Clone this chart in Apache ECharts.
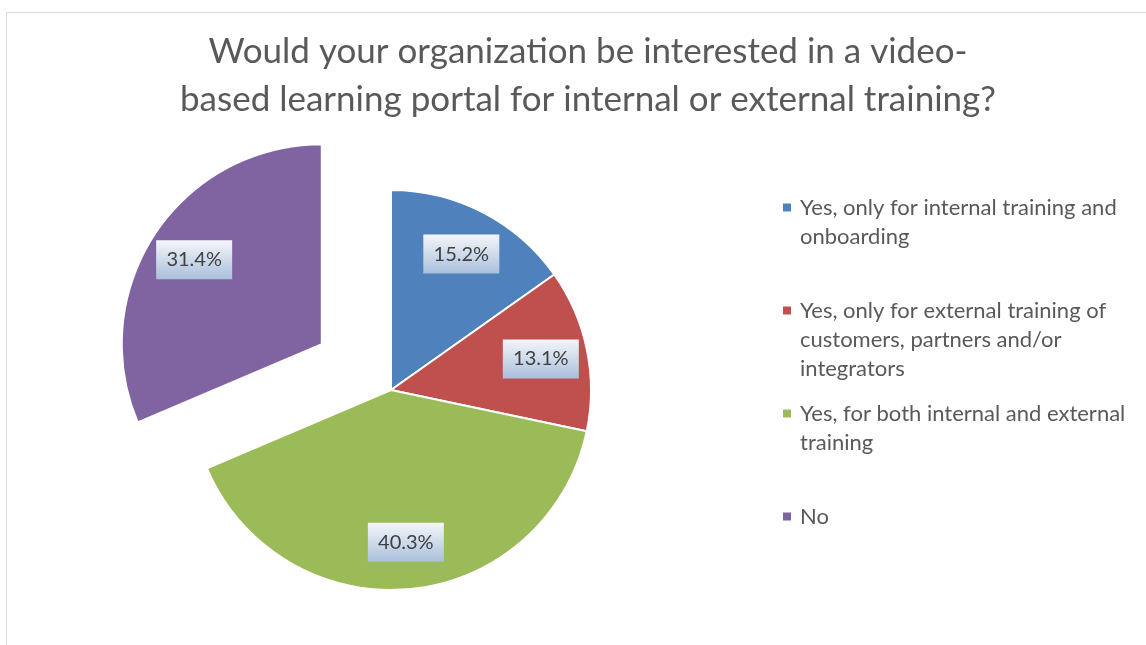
<!DOCTYPE html>
<html>
<head>
<meta charset="utf-8">
<script src="https://cdn.jsdelivr.net/npm/echarts@6/dist/echarts.min.js"></script>
<style>
  html, body { margin: 0; padding: 0; background: #fff; }
  #chart { width: 1146px; height: 645px; }
</style>
</head>
<body>
<div id="chart"></div>
<script>
// chart data
const categories = [
  'Yes, only for internal training and\nonboarding',
  'Yes, only for external training of\ncustomers, partners and/or\nintegrators',
  'Yes, for both internal and external\ntraining',
  'No'
]
const shares = [15.2, 13.1, 40.3, 31.4]
const exploded = [false, false, false, true]
const colors = ['#4f81bd', '#c0504d', '#9bbb59', '#8064a2']
const titleText = 'Would your organization be interested in a video-\nbased learning portal for internal or external training?'

const FONT = 'Lato, "Open Sans", sans-serif'
const chart = echarts.init(document.getElementById('chart'))

// legend rich styles: one square marker per colour
const legendRich = {
  t: { fontSize: 22, lineHeight: 29, color: '#595959', fontFamily: FONT },
  g: { width: 9, lineHeight: 29 },
  s: { width: 17, lineHeight: 29 }
}
colors.forEach((c, i) => {
  legendRich['m' + i] = { width: 8, height: 8, backgroundColor: c }
})

function legendFormatter(name) {
  const i = categories.indexOf(name)
  const lines = name.split('\n')
  while (lines.length < 3) lines.push('')
  return lines.map((l, k) => {
    const head = k === 0 ? '{m' + i + '| }{g| }' : '{s| }'
    return head + (l ? '{t|' + l + '}' : '{t| }')
  }).join('\n')
}

const labelBg = new echarts.graphic.LinearGradient(0, 0, 0, 1, [
  { offset: 0, color: '#f4f6fa' },
  { offset: 1, color: '#a9bfdb' }
])

const pieData = categories.map((name, i) => ({
  name,
  value: shares[i],
  selected: exploded[i],
  itemStyle: { color: colors[i] }
}))

chart.setOption({
  backgroundColor: '#fff',
  animation: false,
  title: {
    text: titleText,
    left: 588,
    top: 28,
    textAlign: 'center',
    padding: 0,
    textStyle: {
      fontFamily: FONT,
      fontSize: 35,
      fontWeight: 'normal',
      lineHeight: 48,
      color: '#595959'
    }
  },
  graphic: [{
    type: 'rect',
    left: 4,
    top: 10,
    shape: { width: 1200, height: 700 },
    style: { fill: 'none', stroke: '#d9d9d9', lineWidth: 1 },
    silent: true
  }],
  legend: {
    orient: 'vertical',
    left: 778,
    top: 193,
    padding: 0,
    itemGap: 16,
    icon: 'none',
    itemWidth: 0,
    itemHeight: 8,
    selectedMode: false,
    data: categories,
    formatter: legendFormatter,
    textStyle: { lineHeight: 29, fontSize: 22, rich: legendRich }
  },
  series: [
    {
      name: 'slices',
      type: 'pie',
      center: [391, 390],
      radius: [0, 200],
      startAngle: 90,
      selectedMode: 'single',
      selectedOffset: 83,
      silent: true,
      label: { show: false },
      labelLine: { show: false },
      itemStyle: { borderColor: '#fff', borderWidth: 2 },
      emphasis: { disabled: true },
      select: { itemStyle: { borderColor: '#fff', borderWidth: 2 } },
      data: pieData
    },
    {
      // transparent copy, only to put the labels at 3/4 of the radius
      name: 'labels',
      type: 'pie',
      center: [391, 390],
      radius: [0, 300],
      startAngle: 90,
      selectedMode: 'single',
      selectedOffset: 83,
      silent: true,
      itemStyle: { color: 'transparent', borderWidth: 0 },
      emphasis: { disabled: true },
      select: { itemStyle: { color: 'transparent', borderWidth: 0 } },
      labelLine: { show: false },
      label: {
        show: true,
        position: 'inside',
        formatter: p => p.value.toFixed(1) + '%',
        fontFamily: FONT,
        fontSize: 20,
        color: '#404040',
        width: 76,
        height: 39,
        lineHeight: 39,
        align: 'center',
        backgroundColor: labelBg
      },
      data: categories.map((name, i) => ({
        name,
        value: shares[i],
        selected: exploded[i]
      }))
    }
  ]
})
</script>
</body>
</html>
